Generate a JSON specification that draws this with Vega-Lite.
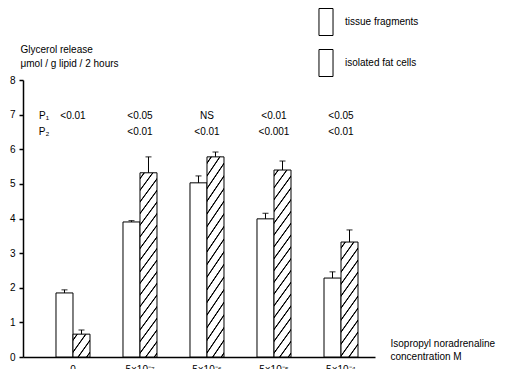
{
  "$schema": "https://vega.github.io/schema/vega-lite/v6.json",
  "width": 352,
  "height": 277,
  "autosize": "none",
  "padding": {"left": 23, "top": 80, "right": 147, "bottom": 12},
  "background": "white",
  "config": {"view": {"stroke": null}, "font": "Liberation Sans"},
  "datasets": {
    "bars": [
      {"conc": "0", "series": "tissue fragments", "value": 1.85, "upper": 1.94},
      {"conc": "0", "series": "isolated fat cells", "value": 0.66, "upper": 0.78},
      {"conc": "5×10⁻⁷", "series": "tissue fragments", "value": 3.9, "upper": 3.94},
      {"conc": "5×10⁻⁷", "series": "isolated fat cells", "value": 5.32, "upper": 5.78},
      {"conc": "5×10⁻⁶", "series": "tissue fragments", "value": 5.03, "upper": 5.23},
      {"conc": "5×10⁻⁶", "series": "isolated fat cells", "value": 5.78, "upper": 5.92},
      {"conc": "5×10⁻⁵", "series": "tissue fragments", "value": 3.99, "upper": 4.15},
      {"conc": "5×10⁻⁵", "series": "isolated fat cells", "value": 5.4, "upper": 5.66},
      {"conc": "5×10⁻⁴", "series": "tissue fragments", "value": 2.28, "upper": 2.46},
      {"conc": "5×10⁻⁴", "series": "isolated fat cells", "value": 3.32, "upper": 3.67}
    ],
    "pvals": [
      {"conc": "0", "p1": "<0.01", "p2": ""},
      {"conc": "5×10⁻⁷", "p1": "<0.05", "p2": "<0.01"},
      {"conc": "5×10⁻⁶", "p1": "NS", "p2": "<0.01"},
      {"conc": "5×10⁻⁵", "p1": "<0.01", "p2": "<0.001"},
      {"conc": "5×10⁻⁴", "p1": "<0.05", "p2": "<0.01"}
    ],
    "plabels": [
      {"conc": "0", "label": "P₁"}
    ],
    "plabels2": [
      {"conc": "0", "label": "P₂"}
    ]
  },
  "encoding": {
    "y": {
      "type": "quantitative",
      "scale": {"domain": [0, 8], "nice": false, "zero": true},
      "axis": {
        "values": [0, 1, 2, 3, 4, 5, 6, 7, 8], "tickCount": 9, "grid": false, "tickSize": 4, "tickWidth": 1.5, "tickColor": "#000",
        "labelOverlap": false, "labelFlush": false, "labelBound": false, "labelSeparation": 0,
        "domainColor": "#000", "domainWidth": 1.5, "labelFontSize": 10, "labelColor": "#000", "labelPadding": 4, "labelFont": "Liberation Sans",
        "title": ["Glycerol release", "μmol / g lipid / 2 hours"],
        "titleAngle": 0, "titleAlign": "left", "titleBaseline": "alphabetic", "titleX": -3, "titleY": -28,
        "titleFontSize": 10, "titleFontWeight": "normal", "titleLineHeight": 14, "titleColor": "#000", "titleFont": "Liberation Sans"
      }
    }
  },
  "layer": [
    {
      "data": {"name": "bars"},
      "transform": [{"filter": {"field": "series", "equal": "tissue fragments"}}],
      "mark": {"type": "bar", "fill": "white", "strokeWidth": 1},
      "encoding": {
        "x": {
          "field": "conc", "type": "nominal",
          "scale": {"type": "band", "domain": ["0", "5×10⁻⁷", "5×10⁻⁶", "5×10⁻⁵", "5×10⁻⁴"], "paddingInner": 0.4925, "paddingOuter": 0.373, "align": 0.66},
          "axis": {
            "ticks": false, "labelPadding": 7, "labelAngle": 0, "labelFontSize": 10, "labelColor": "#000", "labelFont": "Liberation Sans",
            "domainColor": "#000", "domainWidth": 1.5,
            "title": ["Isopropyl  noradrenaline", "concentration M"],
            "titleX": 367, "titleY": -11, "titleAlign": "left", "titleBaseline": "alphabetic", "titleAngle": 0,
            "titleLineHeight": 13, "titleFontSize": 10, "titleFontWeight": "normal", "titleColor": "#000", "titleFont": "Liberation Sans"
          }
        },
        "xOffset": {"field": "series", "type": "nominal", "scale": {"domain": ["tissue fragments", "isolated fat cells"], "paddingInner": 0, "paddingOuter": 0}},
        "y": {"field": "value"},
        "stroke": {
          "field": "series", "type": "nominal",
          "scale": {"domain": ["tissue fragments", "isolated fat cells"], "range": ["black", "black"]},
          "legend": {
            "orient": "none", "legendX": 289, "legendY": -72, "title": null, "padding": 0,
            "rowPadding": 9, "labelFontSize": 10, "labelFont": "Liberation Sans", "labelColor": "#000", "labelOffset": 5,
            "symbolType": "M-0.52,-1H0.52V1H-0.52Z", "symbolSize": 729, "symbolStrokeWidth": 1, "symbolStrokeColor": "black",
            "encode": {
              "symbols": {
                "update": {
                  "fill": [
                    {"test": "datum.value === 'isolated fat cells'", "value": {"gradient": "linear", "x1": 0, "y1": 0, "x2": 0.8205, "y2": 1.1303, "stops": [
                      {"offset": 0, "color": "#fff"},
                      {"offset": 0.0965, "color": "#fff"}, {"offset": 0.1179, "color": "#000"}, {"offset": 0.1393, "color": "#000"}, {"offset": 0.1608, "color": "#fff"},
                      {"offset": 0.3537, "color": "#fff"}, {"offset": 0.3751, "color": "#000"}, {"offset": 0.3966, "color": "#000"}, {"offset": 0.418, "color": "#fff"},
                      {"offset": 0.6109, "color": "#fff"}, {"offset": 0.6324, "color": "#000"}, {"offset": 0.6538, "color": "#000"}, {"offset": 0.6752, "color": "#fff"},
                      {"offset": 0.8682, "color": "#fff"}, {"offset": 0.8896, "color": "#000"}, {"offset": 0.911, "color": "#000"}, {"offset": 0.9325, "color": "#fff"},
                      {"offset": 1, "color": "#fff"}
                    ]}},
                    {"value": "white"}
                  ],
                  "stroke": {"value": "black"},
                  "strokeWidth": {"value": 1},
                  "opacity": {"value": 1}
                }
              }
            }
          }
        }
      }
    },
    {
      "data": {"name": "bars"},
      "transform": [{"filter": {"and": [{"field": "series", "equal": "isolated fat cells"}, {"field": "conc", "oneOf": ["0"]}]}}],
      "mark": {"type": "bar", "stroke": "black", "strokeWidth": 1, "fill": {"gradient": "linear", "x1": 0, "y1": 0, "x2": 1.0199, "y2": 0.9792, "stops": [
        {"offset": 0, "color": "#fff"},
        {"offset": 0.0965, "color": "#fff"}, {"offset": 0.1179, "color": "#000"}, {"offset": 0.1393, "color": "#000"}, {"offset": 0.1608, "color": "#fff"},
        {"offset": 0.3537, "color": "#fff"}, {"offset": 0.3751, "color": "#000"}, {"offset": 0.3966, "color": "#000"}, {"offset": 0.418, "color": "#fff"},
        {"offset": 0.6109, "color": "#fff"}, {"offset": 0.6324, "color": "#000"}, {"offset": 0.6538, "color": "#000"}, {"offset": 0.6752, "color": "#fff"},
        {"offset": 0.8682, "color": "#fff"}, {"offset": 0.8896, "color": "#000"}, {"offset": 0.911, "color": "#000"}, {"offset": 0.9325, "color": "#fff"},
        {"offset": 1, "color": "#fff"}
      ]}},
      "encoding": {
        "x": {"field": "conc", "type": "nominal"},
        "xOffset": {"field": "series", "type": "nominal"},
        "y": {"field": "value"}
      }
    },
    {
      "data": {"name": "bars"},
      "transform": [{"filter": {"and": [{"field": "series", "equal": "isolated fat cells"}, {"field": "conc", "oneOf": ["5×10⁻⁷", "5×10⁻⁶", "5×10⁻⁵"]}]}}],
      "mark": {"type": "bar", "stroke": "black", "strokeWidth": 1, "fill": {"gradient": "linear", "x1": 0, "y1": 0, "x2": 0.13878, "y2": 1.10788, "stops": [
        {"offset": 0, "color": "#fff"},
        {"offset": 0.021, "color": "#fff"}, {"offset": 0.0257, "color": "#000"}, {"offset": 0.0304, "color": "#000"}, {"offset": 0.0351, "color": "#fff"},
        {"offset": 0.0772, "color": "#fff"}, {"offset": 0.0819, "color": "#000"}, {"offset": 0.0865, "color": "#000"}, {"offset": 0.0912, "color": "#fff"},
        {"offset": 0.1333, "color": "#fff"}, {"offset": 0.138, "color": "#000"}, {"offset": 0.1427, "color": "#000"}, {"offset": 0.1473, "color": "#fff"},
        {"offset": 0.1894, "color": "#fff"}, {"offset": 0.1941, "color": "#000"}, {"offset": 0.1988, "color": "#000"}, {"offset": 0.2035, "color": "#fff"},
        {"offset": 0.2456, "color": "#fff"}, {"offset": 0.2502, "color": "#000"}, {"offset": 0.2549, "color": "#000"}, {"offset": 0.2596, "color": "#fff"},
        {"offset": 0.3017, "color": "#fff"}, {"offset": 0.3064, "color": "#000"}, {"offset": 0.311, "color": "#000"}, {"offset": 0.3157, "color": "#fff"},
        {"offset": 0.3578, "color": "#fff"}, {"offset": 0.3625, "color": "#000"}, {"offset": 0.3672, "color": "#000"}, {"offset": 0.3718, "color": "#fff"},
        {"offset": 0.4139, "color": "#fff"}, {"offset": 0.4186, "color": "#000"}, {"offset": 0.4233, "color": "#000"}, {"offset": 0.428, "color": "#fff"},
        {"offset": 0.4701, "color": "#fff"}, {"offset": 0.4747, "color": "#000"}, {"offset": 0.4794, "color": "#000"}, {"offset": 0.4841, "color": "#fff"},
        {"offset": 0.5262, "color": "#fff"}, {"offset": 0.5309, "color": "#000"}, {"offset": 0.5355, "color": "#000"}, {"offset": 0.5402, "color": "#fff"},
        {"offset": 0.5823, "color": "#fff"}, {"offset": 0.587, "color": "#000"}, {"offset": 0.5917, "color": "#000"}, {"offset": 0.5963, "color": "#fff"},
        {"offset": 0.6384, "color": "#fff"}, {"offset": 0.6431, "color": "#000"}, {"offset": 0.6478, "color": "#000"}, {"offset": 0.6525, "color": "#fff"},
        {"offset": 0.6946, "color": "#fff"}, {"offset": 0.6992, "color": "#000"}, {"offset": 0.7039, "color": "#000"}, {"offset": 0.7086, "color": "#fff"},
        {"offset": 0.7507, "color": "#fff"}, {"offset": 0.7554, "color": "#000"}, {"offset": 0.7601, "color": "#000"}, {"offset": 0.7647, "color": "#fff"},
        {"offset": 0.8068, "color": "#fff"}, {"offset": 0.8115, "color": "#000"}, {"offset": 0.8162, "color": "#000"}, {"offset": 0.8209, "color": "#fff"},
        {"offset": 0.863, "color": "#fff"}, {"offset": 0.8676, "color": "#000"}, {"offset": 0.8723, "color": "#000"}, {"offset": 0.877, "color": "#fff"},
        {"offset": 0.9191, "color": "#fff"}, {"offset": 0.9237, "color": "#000"}, {"offset": 0.9284, "color": "#000"}, {"offset": 0.9331, "color": "#fff"},
        {"offset": 0.9752, "color": "#fff"}, {"offset": 0.9799, "color": "#000"}, {"offset": 0.9846, "color": "#000"}, {"offset": 0.9892, "color": "#fff"},
        {"offset": 1, "color": "#fff"}
      ]}},
      "encoding": {
        "x": {"field": "conc", "type": "nominal"},
        "xOffset": {"field": "series", "type": "nominal"},
        "y": {"field": "value"}
      }
    },
    {
      "data": {"name": "bars"},
      "transform": [{"filter": {"and": [{"field": "series", "equal": "isolated fat cells"}, {"field": "conc", "oneOf": ["5×10⁻⁴"]}]}}],
      "mark": {"type": "bar", "stroke": "black", "strokeWidth": 1, "fill": {"gradient": "linear", "x1": 0, "y1": 0, "x2": 0.23953, "y2": 1.15739, "stops": [
        {"offset": 0, "color": "#fff"},
        {"offset": 0.0324, "color": "#fff"}, {"offset": 0.0396, "color": "#000"}, {"offset": 0.0468, "color": "#000"}, {"offset": 0.054, "color": "#fff"},
        {"offset": 0.1189, "color": "#fff"}, {"offset": 0.1261, "color": "#000"}, {"offset": 0.1333, "color": "#000"}, {"offset": 0.1405, "color": "#fff"},
        {"offset": 0.2053, "color": "#fff"}, {"offset": 0.2125, "color": "#000"}, {"offset": 0.2197, "color": "#000"}, {"offset": 0.2269, "color": "#fff"},
        {"offset": 0.2918, "color": "#fff"}, {"offset": 0.299, "color": "#000"}, {"offset": 0.3062, "color": "#000"}, {"offset": 0.3134, "color": "#fff"},
        {"offset": 0.3782, "color": "#fff"}, {"offset": 0.3854, "color": "#000"}, {"offset": 0.3927, "color": "#000"}, {"offset": 0.3999, "color": "#fff"},
        {"offset": 0.4647, "color": "#fff"}, {"offset": 0.4719, "color": "#000"}, {"offset": 0.4791, "color": "#000"}, {"offset": 0.4863, "color": "#fff"},
        {"offset": 0.5512, "color": "#fff"}, {"offset": 0.5584, "color": "#000"}, {"offset": 0.5656, "color": "#000"}, {"offset": 0.5728, "color": "#fff"},
        {"offset": 0.6376, "color": "#fff"}, {"offset": 0.6448, "color": "#000"}, {"offset": 0.652, "color": "#000"}, {"offset": 0.6592, "color": "#fff"},
        {"offset": 0.7241, "color": "#fff"}, {"offset": 0.7313, "color": "#000"}, {"offset": 0.7385, "color": "#000"}, {"offset": 0.7457, "color": "#fff"},
        {"offset": 0.8105, "color": "#fff"}, {"offset": 0.8177, "color": "#000"}, {"offset": 0.8249, "color": "#000"}, {"offset": 0.8321, "color": "#fff"},
        {"offset": 0.897, "color": "#fff"}, {"offset": 0.9042, "color": "#000"}, {"offset": 0.9114, "color": "#000"}, {"offset": 0.9186, "color": "#fff"},
        {"offset": 1, "color": "#fff"}
      ]}},
      "encoding": {
        "x": {"field": "conc", "type": "nominal"},
        "xOffset": {"field": "series", "type": "nominal"},
        "y": {"field": "value"}
      }
    },
    {
      "data": {"name": "bars"},
      "mark": {"type": "rule", "color": "black", "strokeWidth": 1},
      "encoding": {
        "x": {"field": "conc", "type": "nominal"},
        "xOffset": {"field": "series", "type": "nominal"},
        "y": {"field": "value"},
        "y2": {"field": "upper"}
      }
    },
    {
      "data": {"name": "bars"},
      "mark": {"type": "tick", "color": "black", "thickness": 1.2, "size": 6},
      "encoding": {
        "x": {"field": "conc", "type": "nominal"},
        "xOffset": {"field": "series", "type": "nominal"},
        "y": {"field": "upper"}
      }
    },
    {
      "data": {"name": "pvals"},
      "mark": {"type": "text", "fontSize": 10, "color": "#000", "font": "Liberation Sans"},
      "encoding": {
        "x": {"field": "conc", "type": "nominal"},
        "y": {"datum": 6.97},
        "text": {"field": "p1"}
      }
    },
    {
      "data": {"name": "pvals"},
      "mark": {"type": "text", "fontSize": 10, "color": "#000", "font": "Liberation Sans"},
      "encoding": {
        "x": {"field": "conc", "type": "nominal"},
        "y": {"datum": 6.5},
        "text": {"field": "p2"}
      }
    },
    {
      "data": {"name": "plabels"},
      "mark": {"type": "text", "fontSize": 10, "color": "#000", "font": "Liberation Sans", "dx": -29},
      "encoding": {
        "x": {"field": "conc", "type": "nominal"},
        "y": {"datum": 6.97},
        "text": {"field": "label"}
      }
    },
    {
      "data": {"name": "plabels2"},
      "mark": {"type": "text", "fontSize": 10, "color": "#000", "font": "Liberation Sans", "dx": -29},
      "encoding": {
        "x": {"field": "conc", "type": "nominal"},
        "y": {"datum": 6.5},
        "text": {"field": "label"}
      }
    }
  ]
}
